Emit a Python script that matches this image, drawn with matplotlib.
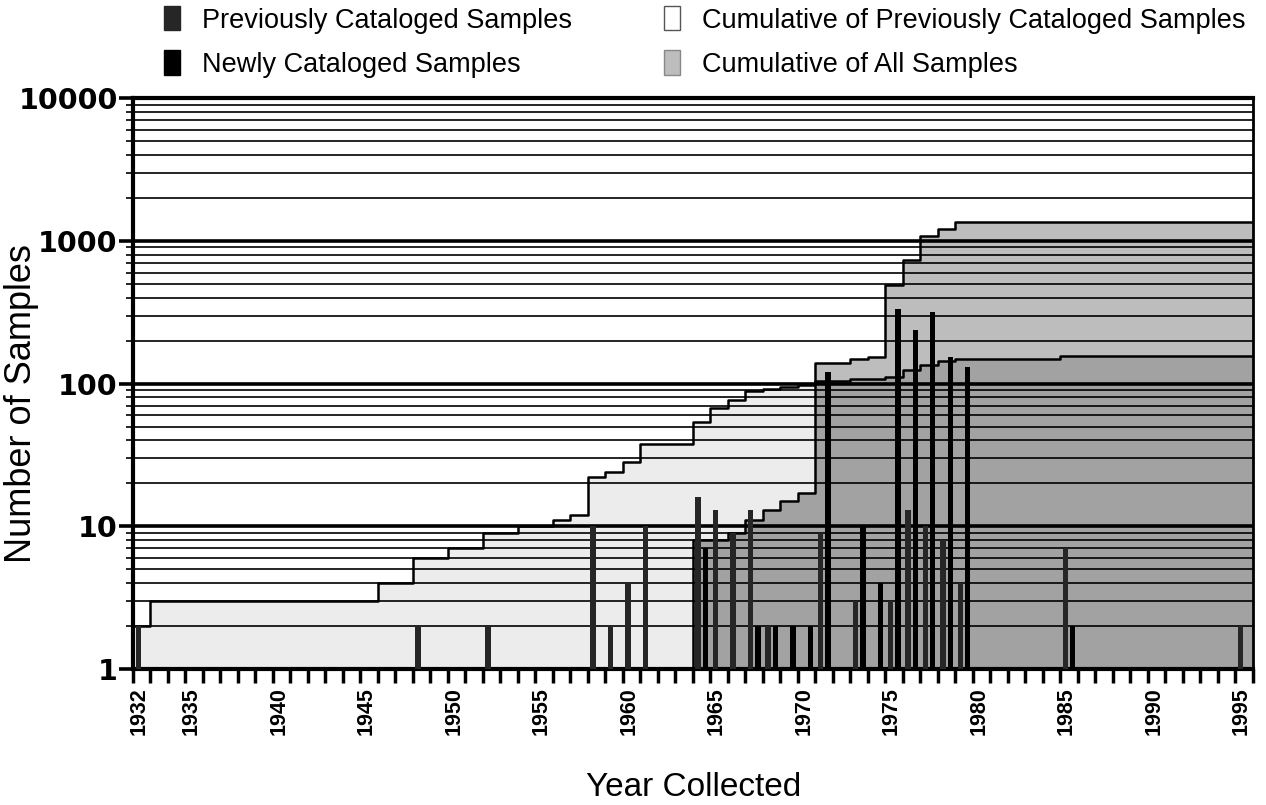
import numpy as np
import matplotlib.pyplot as plt
from matplotlib.patches import Patch
from matplotlib.ticker import LogLocator, NullFormatter, FixedLocator

# samples per year (bars)
prev_years = [1932, 1948, 1952, 1958, 1959, 1960, 1961, 1964, 1965, 1966, 1967, 1968,
              1971, 1973, 1975, 1976, 1977, 1978, 1979, 1985, 1995]
prev_counts = [2, 2, 2, 10, 2, 4, 10, 16, 13, 9, 13, 2, 9, 3, 3, 13, 10, 8, 4, 7, 2]

new_years = [1964, 1967, 1968, 1969, 1970, 1971, 1973, 1974, 1975, 1976, 1977, 1978, 1979, 1985]
new_counts = [7, 2, 2, 2, 2, 120, 10, 4, 333, 238, 320, 153, 130, 2]

# cumulative curves (step at start of year)
cum_prev_years = [1932, 1933, 1946, 1948, 1950, 1952, 1954, 1956, 1957, 1958, 1959, 1960,
                  1961, 1964, 1965, 1966, 1967, 1968, 1969, 1970, 1971, 1973, 1975, 1976,
                  1977, 1978, 1979, 1985]
cum_prev = [2, 3, 4, 6, 7, 9, 10, 11, 12, 22, 24, 28, 38, 54, 67, 77, 89, 92, 95, 97,
            104, 108, 112, 125, 136, 144, 148, 157]

cum_all_years = [1964, 1966, 1967, 1968, 1969, 1970, 1971, 1973, 1974, 1975, 1976, 1977,
                 1978, 1979, 1985]
cum_all = [8, 9, 11, 13, 15, 17, 139, 148, 154, 493, 738, 1076, 1212, 1349, 1365]

label_years = [1932, 1935, 1940, 1945, 1950, 1955, 1960, 1965, 1970, 1975, 1980, 1985, 1990, 1995]
y_ticks = [1, 10, 100, 1000, 10000]
y_tick_labels = ['1', '10', '100', '1000', '10000']

first_year, end_year = 1932, 1996

plt.rcParams['font.family'] = ['Liberation Sans', 'DejaVu Sans']

fig = plt.figure(figsize=(12.66, 8.05), dpi=100)
ax = fig.add_axes([0.105, 0.169, 0.8845, 0.709])
ax.set_yscale('log')


def step_on(years, vals, grid):
    idx = np.searchsorted(years, grid, side='right') - 1
    out = np.ones(len(grid))
    ok = idx >= 0
    out[ok] = np.array(vals)[idx[ok]]
    return out


grid = np.array(sorted(set(cum_prev_years) | set(cum_all_years) | {end_year}), dtype=float)
a = step_on(cum_prev_years, cum_prev, grid)
b = step_on(cum_all_years, cum_all, grid)
both = np.minimum(a, b)

ax.fill_between(grid, 1, a, step='post', color='#ececec', lw=0, zorder=1)
ax.fill_between(grid, 1, b, step='post', color='#bdbdbd', lw=0, zorder=1.1)
ax.fill_between(grid, 1, both, step='post', color='#a2a2a2', lw=0, zorder=1.2)

# outlines of the cumulative areas
xa = np.r_[cum_prev_years[0], cum_prev_years, end_year]
ya = np.r_[1, cum_prev, cum_prev[-1]]
ax.step(xa, ya, where='post', color='k', lw=1.8, zorder=2)
xb = np.r_[cum_all_years[0], cum_all_years, end_year]
yb = np.r_[1, cum_all, cum_all[-1]]
ax.step(xb, yb, where='post', color='k', lw=1.8, zorder=2)

# bars
px = np.array(prev_years) + 0.3
ax.bar(px, np.array(prev_counts) - 1, bottom=1, width=0.3, color='#262626', lw=0, zorder=3)
nx = np.array(new_years) + 0.72
ax.bar(nx, np.array(new_counts) - 1, bottom=1, width=0.3, color='black', lw=0, zorder=3)

ax.set_axisbelow('line')
ax.set_ylim(1, 10000)
ax.set_xlim(first_year, end_year)

ax.yaxis.set_major_locator(FixedLocator(y_ticks))
ax.set_yticklabels(y_tick_labels, fontsize=20.5, fontweight='bold', family='DejaVu Sans')
ax.yaxis.set_minor_locator(LogLocator(base=10, subs=np.arange(2, 10)))
ax.yaxis.set_minor_formatter(NullFormatter())
ax.grid(axis='y', which='major', color='black', lw=2.6)
ax.grid(axis='y', which='minor', color='black', lw=1.2)
ax.tick_params(axis='y', which='major', length=10, width=2.6, pad=1)
ax.tick_params(axis='y', which='minor', length=5, width=1.2)

ax.set_xticks(np.array(label_years) + 0.35)
ax.set_xticklabels([str(y) for y in label_years], rotation=90, fontsize=15.5, fontweight='bold')
ax.set_xticks(np.arange(first_year, end_year + 1), minor=True)
ax.tick_params(axis='x', which='major', length=0, pad=13)
ax.tick_params(axis='x', which='minor', length=10, width=2.5)

for side in ['left', 'bottom', 'top']:
    ax.spines[side].set_linewidth(3)
ax.spines['right'].set_linewidth(2)

ax.set_ylabel('Number of Samples', fontsize=26)
ax.yaxis.set_label_coords(-0.084, 0.465)
ax.set_xlabel('Year Collected', fontsize=24)
ax.xaxis.set_label_coords(0.501, -0.18)

handles = [
    Patch(facecolor='#262626', edgecolor='#262626', label='Previously Cataloged Samples'),
    Patch(facecolor='black', edgecolor='black', label='Newly Cataloged Samples'),
    Patch(facecolor='white', edgecolor='#555555', lw=1, label='Cumulative of Previously Cataloged Samples'),
    Patch(facecolor='#bdbdbd', edgecolor='#888888', lw=1, label='Cumulative of All Samples'),
]
fig.legend(handles=handles, loc='upper left', bbox_to_anchor=(0.125, 0.999), ncol=2,
           frameon=False, fontsize=19.5, handlelength=0.6, handleheight=1.0,
           handletextpad=0.8, columnspacing=3.4, labelspacing=0.62, borderpad=0.2,
           borderaxespad=0)

fig.savefig('out.png', dpi=100)
